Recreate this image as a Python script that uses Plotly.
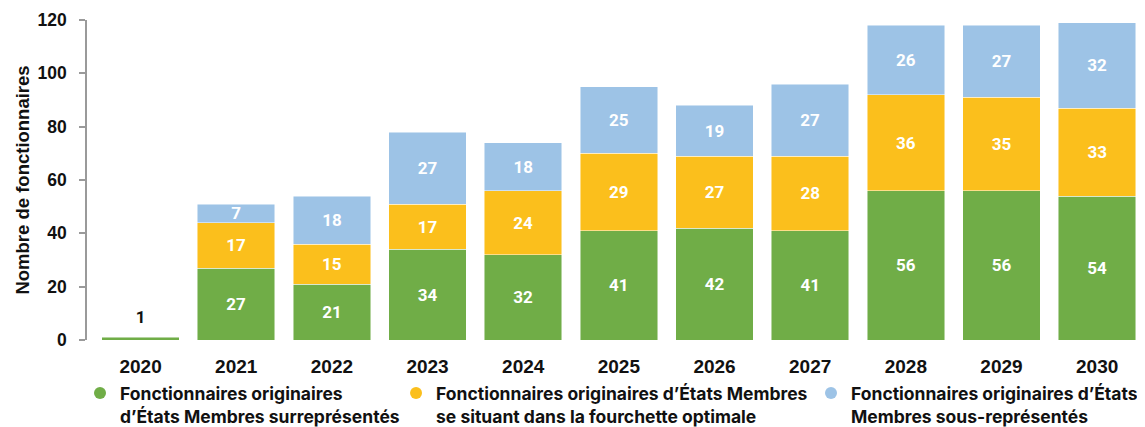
import plotly.graph_objects as go

years = ["2020", "2021", "2022", "2023", "2024", "2025", "2026", "2027", "2028", "2029", "2030"]
surrep = [1, 27, 21, 34, 32, 41, 42, 41, 56, 56, 54]
optimal = [None, 17, 15, 17, 24, 29, 27, 28, 36, 35, 33]
sousrep = [None, 7, 18, 27, 18, 25, 19, 27, 26, 27, 32]

names = [
    "Fonctionnaires originaires<br>d’États Membres surreprésentés",
    "Fonctionnaires originaires d’États Membres<br>se situant dans la fourchette optimale",
    "Fonctionnaires originaires d’États<br>Membres sous-représentés",
]
colors = ["#70AD47", "#FBBF1C", "#9DC3E6"]
series = [surrep, optimal, sousrep]

FONT = "Roboto"
LEGFONT = "Inter"
AXFONT = "Liberation Sans"
DARK = "#111111"
fig = go.Figure()

for i, (vals, col) in enumerate(zip(series, colors)):
    texts = ["" if (v is None or (i == 0 and j == 0)) else str(v) for j, v in enumerate(vals)]
    fig.add_trace(go.Bar(
        x=years, y=vals, marker=dict(color=col, line=dict(color="rgba(255,255,255,0.6)", width=0.8)),
        text=texts, textposition="inside", insidetextanchor="middle", textangle=0,
        constraintext="none",
        textfont=dict(color="white", size=17, family=FONT, weight="bold"),
        showlegend=False, hoverinfo="skip",
    ))

# label above the tiny 2020 bar (invisible marker pads the text upward)
fig.add_trace(go.Scatter(
    x=[years[0]], y=[surrep[0]], mode="markers+text", text=[str(surrep[0])],
    textposition="top center",
    marker=dict(size=14, opacity=0),
    textfont=dict(size=17, family=FONT, color=DARK, weight="bold"),
    showlegend=False, hoverinfo="skip",
))

legend_x = [-0.0066, 0.2921, 0.6843]
for i, (nm, col) in enumerate(zip(names, colors)):
    lg = "legend" if i == 0 else f"legend{i+1}"
    fig.add_trace(go.Scatter(
        x=[None], y=[None], mode="markers", name=nm,
        marker=dict(color=col, size=18, symbol="circle"),
        legend=lg, showlegend=True,
    ))

legend_common = dict(orientation="v", y=-0.11, yanchor="top", xanchor="left",
                     font=dict(size=17.5, family=LEGFONT, color=DARK, weight="bold"),
                     valign="top", bgcolor="rgba(0,0,0,0)", itemsizing="constant",
                     borderwidth=0)

fig.update_layout(
    width=1137, height=419,
    barmode="stack", bargap=0.19,
    plot_bgcolor="white", paper_bgcolor="white",
    margin=dict(l=79, r=0, t=12, b=87, autoexpand=False),
    font=dict(family=FONT, color=DARK),
    legend=dict(x=legend_x[0], **legend_common),
    legend2=dict(x=legend_x[1], **legend_common),
    legend3=dict(x=legend_x[2], **legend_common),
    xaxis=dict(type="category", range=[-0.56, 10.5], showline=False, ticks="", showgrid=False,
               tickfont=dict(size=19, family=AXFONT, color=DARK, weight="bold"),
               ticklabelstandoff=13),
    yaxis=dict(range=[0, 120], dtick=20, showgrid=False, zeroline=False,
               showline=True, linecolor="#9a9a9a", linewidth=1.5,
               ticks="outside", ticklen=6, tickcolor="#9a9a9a", tickwidth=1.5,
               ticklabelstandoff=9,
               tickfont=dict(size=17.5, family=AXFONT, color=DARK, weight="bold"),
               title=dict(text="Nombre de fonctionnaires", standoff=3,
                          font=dict(size=18.5, family=AXFONT, color=DARK, weight="bold"))),
)

fig.write_html("out.html")
